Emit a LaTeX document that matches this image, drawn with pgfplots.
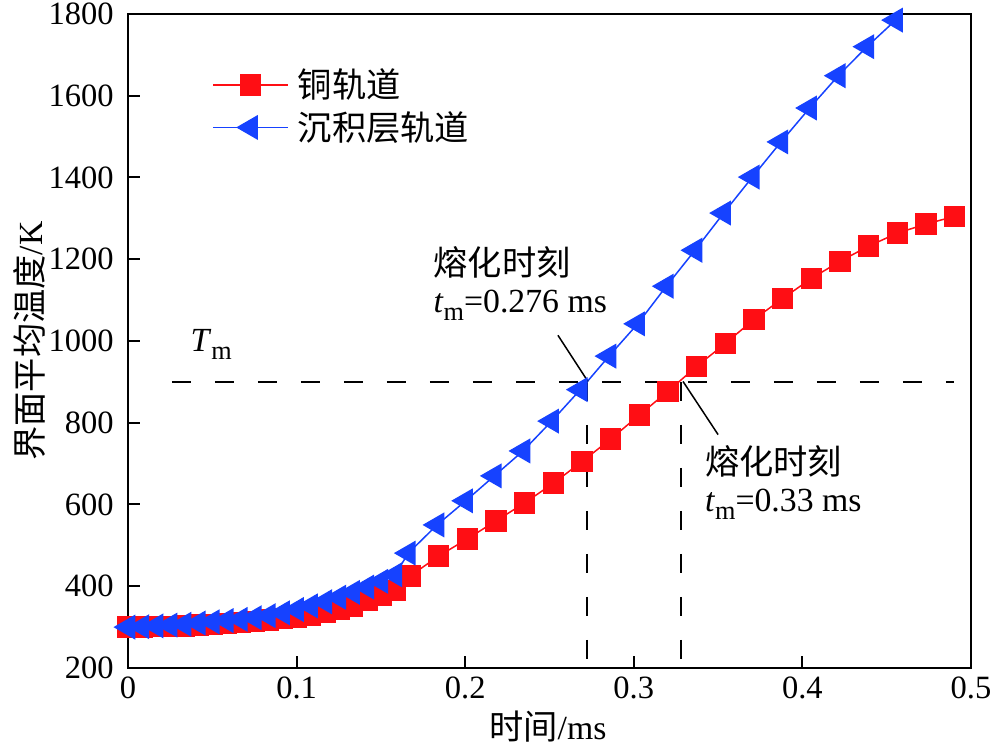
\documentclass[border=0pt]{standalone}
\usepackage{pgfplots}
\pgfplotsset{compat=1.18}
\usepackage{fontspec}
\setmainfont{Liberation Serif}
\newfontfamily\cjk{Noto Sans CJK SC}
\definecolor{myred}{RGB}{255,14,20}
\definecolor{myblue}{RGB}{22,66,255}
\newcommand{\zh}[1]{{\cjk\fontsize{13.7bp}{16bp}\selectfont #1}}
\newcommand{\sub}[1]{\raisebox{-0.55ex}{\fontsize{10.5bp}{12bp}\selectfont #1}}

\begin{document}
\begin{tikzpicture}
\begin{axis}[
  scale only axis, width=337.2bp, height=261.6bp,
  xmin=0, xmax=0.5, ymin=200, ymax=1800,
  xtick={0,0.1,0.2,0.3,0.4,0.5},
  ytick={200,400,600,800,1000,1200,1400,1600,1800},
  tick align=inside, xtick pos=bottom, ytick pos=left,
  major tick length=4.8bp,
  axis line style={line width=0.8bp},
  every tick/.style={line width=0.8bp, black},
  /pgf/number format/assume math mode=true,
  /pgf/number format/1000 sep={},
  tick label style={font=\fontsize{13bp}{15bp}\selectfont},
  yticklabel style={xshift=-2.2bp},
  xlabel={\zh{时间}/ms},
  ylabel={\zh{界面平均温度}/K},
  label style={font=\fontsize{13.5bp}{16bp}\selectfont},
  xlabel style={at={(axis description cs:0.498,-0.0902)}, anchor=center},
  ylabel style={at={(axis description cs:-0.1163,0.5)}, anchor=center},
  legend style={draw=none, fill=none, at={(0.0996,0.925)}, anchor=north west,
    font=\fontsize{13bp}{15bp}\selectfont, inner sep=0pt, row sep=0bp,
    cells={anchor=west}, /tikz/every odd column/.append style={column sep=1.6bp}},
  legend image code/.code={\draw[mark repeat=2,mark phase=2,#1] plot coordinates {(0bp,0bp) (15bp,0bp) (30bp,0bp)};},
  clip=false,
]
\coordinate (sw) at (rel axis cs:0,0);
\coordinate (ne) at (rel axis cs:1,1);

% reference lines
\draw[black, line width=0.6bp, dash pattern=on 7.6bp off 9.6bp] (axis cs:0.026,900) -- (axis cs:0.49,900);
\draw[black, line width=0.6bp, dash pattern=on 7.6bp off 9.6bp] (axis cs:0.2722,900) -- (axis cs:0.2722,200);
\draw[black, line width=0.6bp, dash pattern=on 7.6bp off 9.6bp] (axis cs:0.328,900) -- (axis cs:0.328,200);

\addplot[color=myred, line width=0.6bp, mark=square*, mark size=4bp, mark options={solid}] coordinates {
(0,300) (0.0083,300) (0.0167,301) (0.025,302) (0.0333,303) (0.0417,305) (0.05,307) (0.0583,309) (0.0667,311) (0.075,314)
(0.0833,317) (0.0917,321) (0.1,325) (0.1083,330) (0.1167,336) (0.125,343) (0.1333,352) (0.1417,365) (0.15,377) (0.1583,390)
(0.1673,425) (0.1843,474) (0.2013,516) (0.2183,560) (0.2353,604) (0.2523,652) (0.2693,705) (0.2863,760) (0.3033,819) (0.3203,877)
(0.3373,938) (0.3543,994) (0.3713,1053) (0.3883,1104) (0.4053,1153) (0.4223,1195) (0.4393,1232) (0.4563,1264) (0.4733,1286) (0.4903,1305)
};
\addlegendentry{\zh{铜轨道}}

\addplot[color=myblue, line width=0.6bp, mark=triangle*, mark size=5.2bp, mark options={rotate=90, solid}] coordinates {
(0,300) (0.0083,301) (0.0167,303) (0.025,305) (0.0333,307) (0.0417,310) (0.05,313) (0.0583,316) (0.0667,319) (0.075,323)
(0.0833,328) (0.0917,335) (0.1,343) (0.1083,352) (0.1167,362) (0.125,373) (0.1333,385) (0.1417,398) (0.15,412) (0.1583,428)
(0.1663,481) (0.1833,550) (0.2003,609) (0.2173,670) (0.2343,731) (0.2513,804) (0.2683,881) (0.2853,963) (0.3023,1042) (0.3193,1134)
(0.3363,1222) (0.3533,1313) (0.3703,1401) (0.3873,1487) (0.4043,1570) (0.4213,1649) (0.4383,1720) (0.4553,1785)
};
\addlegendentry{\zh{沉积层轨道}}

% annotations
\draw[black, line width=0.6bp] (axis cs:0.255,1014) -- (axis cs:0.2728,901);
\draw[black, line width=0.6bp] (axis cs:0.3292,901) -- (axis cs:0.350,771);
\node[anchor=west, inner sep=0pt] at (axis cs:0.181,1193) {\zh{熔化时刻}};
\node[anchor=west, inner sep=0pt, font=\fontsize{13.5bp}{16bp}\selectfont] at (axis cs:0.181,1087) {\textit{t}\sub{m}=0.276 ms};
\node[anchor=west, inner sep=0pt] at (axis cs:0.342,705) {\zh{熔化时刻}};
\node[anchor=west, inner sep=0pt, font=\fontsize{13.5bp}{16bp}\selectfont] at (axis cs:0.342,600) {\textit{t}\sub{m}=0.33 ms};
\node[anchor=west, inner sep=0pt, font=\fontsize{13.5bp}{16bp}\selectfont] at (axis cs:0.0368,992) {\textit{T}\sub{m}};
\end{axis}
\pgfresetboundingbox
\path[use as bounding box] ([xshift=-51.2bp,yshift=-30.8bp]sw) rectangle ([xshift=8.4bp,yshift=5.6bp]ne);
\end{tikzpicture}
\end{document}
